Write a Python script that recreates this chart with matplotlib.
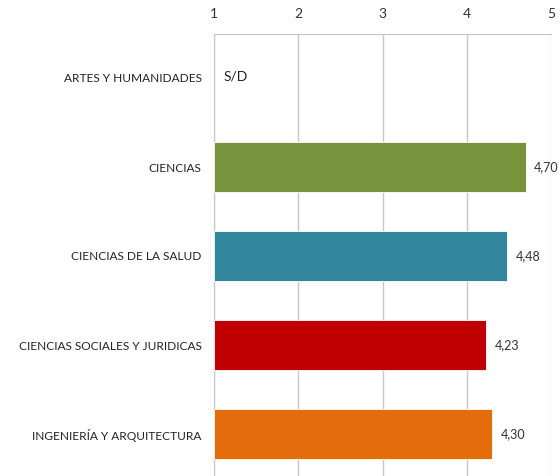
import matplotlib
matplotlib.use("Agg")
import matplotlib.pyplot as plt

categories = ["ARTES Y HUMANIDADES", "CIENCIAS", "CIENCIAS DE LA SALUD",
              "CIENCIAS SOCIALES Y JURIDICAS", "INGENIERÍA Y ARQUITECTURA"]
values = [None, 4.70, 4.48, 4.23, 4.30]
colors = ["#FFFFFF", "#77933C", "#31859C", "#C00000", "#E46C0A"]
ticks = [1, 2, 3, 4, 5]

plt.rcParams['font.family'] = ['Lato', 'DejaVu Sans']

fig = plt.figure(figsize=(5.6, 4.76), dpi=100)
ax = fig.add_axes([214/560, 1 - 478.5/476, (551 - 214)/560, 445/476])

base = 1
ypos = list(range(len(categories)))
for y, v, c in zip(ypos, values, colors):
    if v is None:
        ax.annotate("S/D", xy=(base, y), xytext=(7, 1), textcoords="offset points",
                    ha="left", va="center", fontsize=10, color="#222222")
        continue
    ax.barh(y, v - base, left=base, height=0.56, color=c, edgecolor="white", linewidth=0.6, zorder=3)
    ax.annotate(f"{v:.2f}".replace(".", ","), xy=(v, y), xytext=(6, 0),
                textcoords="offset points", ha="left", va="center",
                fontsize=9, color="#333333", zorder=4)

ax.set_xlim(1, 5)
ax.set_ylim(len(categories) - 0.5, -0.5)
ax.set_xticks(ticks)
ax.set_xticklabels([str(t) for t in ticks])
ax.xaxis.tick_top()
ax.tick_params(axis="x", length=0, pad=10, labelsize=10, labelcolor="#333333")
ax.set_yticks(ypos)
ax.set_yticklabels(categories)
ax.tick_params(axis="y", length=0, pad=9, labelsize=8.6, labelcolor="#222222")
ax.grid(axis="x", color="#C8C8C8", linewidth=1, zorder=0)
for s in ["left", "top"]:
    ax.spines[s].set_color("#C8C8C8")
for s in ["right", "bottom"]:
    ax.spines[s].set_visible(False)

fig.savefig("out.png", dpi=100)
